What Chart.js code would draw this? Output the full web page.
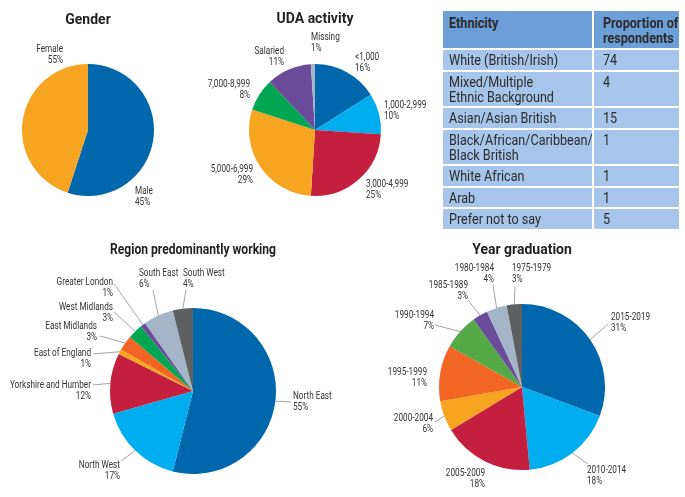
<!DOCTYPE html>
<html>
<head>
<meta charset="utf-8">
<script src="https://cdn.jsdelivr.net/npm/chart.js@4.4.0/dist/chart.umd.min.js"></script>
<style>
  body { margin: 0; background: #fff; }
  #page { position: relative; width: 685px; height: 497px; overflow: hidden; }
  canvas { position: absolute; left: 0; top: 0; }
  table {
    position: absolute; left: 443px; top: 11px; width: 236px;
    border-collapse: collapse; table-layout: fixed;
    font-family: 'Roboto', sans-serif;
    font-size: 14px; line-height: 15px; color: #2b2b2b;
  }
  td, th {
    border: 2px solid #fff; padding: 3px 0 0 6px;
    vertical-align: top; text-align: left; background: #a7c4ea;
    overflow: visible; white-space: nowrap;
  }
  th { background: #6c9fd8; font-weight: bold; padding-top: 5px; }
  tr > :first-child { border-left: none; }
  tr > :last-child { border-right: none; padding-left: 9px; }
  tr:first-child > * { border-top: none; }
  tr:last-child > * { border-bottom: none; }
  .c { display: inline-block; transform: scaleX(0.9); transform-origin: 0 0; }
</style>
</head>
<body>
<div id="page">
  <canvas id="gender" width="685" height="497"></canvas>
  <canvas id="uda" width="685" height="497"></canvas>
  <canvas id="region" width="685" height="497"></canvas>
  <canvas id="year" width="685" height="497"></canvas>
  <table id="eth"><colgroup><col style="width:150px"><col style="width:86px"></colgroup></table>
</div>
<script>
const FONT = "'Roboto', sans-serif";
const TEXT = '#333333';

// Gender (slice sizes as drawn, printed labels as printed)
const genderLabels = ['Male', 'Female'];
const genderValues = [55, 45];
const genderText = ['45%', '55%'];

// UDA activity
const udaLabels = ['<1,000', '1,000-2,999', '3,000-4,999', '5,000-6,999', '7,000-8,999', 'Salaried', 'Missing'];
const udaValues = [16, 10, 25, 29, 8, 11, 1];

// Region predominantly working
const regionLabels = ['North East', 'North West', 'Yorkshire and Humber', 'East of England', 'East Midlands',
  'West Midlands', 'Greater London', 'South East', 'South West'];
const regionValues = [55, 17, 12, 1, 3, 3, 1, 6, 4];

// Year graduation
const yearLabels = ['2015-2019', '2010-2014', '2005-2009', '2000-2004', '1995-1999', '1990-1994',
  '1985-1989', '1980-1984', '1975-1979'];
const yearValues = [31, 18, 18, 6, 11, 7, 3, 4, 3];

// Ethnicity table
const ethnicityHead = ['Ethnicity', 'Proportion of\nrespondents'];
const ethnicityLabels = ['White (British/Irish)', 'Mixed/Multiple\nEthnic Background', 'Asian/Asian British',
  'Black/African/Caribbean/\nBlack British', 'White African', 'Arab', 'Prefer not to say'];
const ethnicityValues = [74, 4, 15, 1, 1, 1, 5];

const C = {
  navy: '#0067ac', sky: '#00aeef', red: '#c41f3e', amber: '#f7a521', orange: '#f26522',
  green: '#00a651', olive: '#55a947', purple: '#6a4c9b', steel: '#a3b5c7', grey: '#5e5f61'
};

// table
const tbl = document.getElementById('eth');
const rowHeights = [38, 22, 36, 22, 36, 22, 21, 21];
const cell = t => '<span class="c">' + String(t).replace('\n', '<br>') + '</span>';
let html = '<tr style="height:' + rowHeights[0] + 'px">' +
  ethnicityHead.map(h => '<th>' + cell(h) + '</th>').join('') + '</tr>';
ethnicityLabels.forEach((l, i) => {
  html += '<tr style="height:' + rowHeights[i + 1] + 'px"><td>' + cell(l) +
    '</td><td>' + cell(ethnicityValues[i]) + '</td></tr>';
});
tbl.insertAdjacentHTML('beforeend', html);

// labels outside the pie, with optional leader lines
const outLabels = {
  id: 'outLabels',
  afterDatasetsDraw(chart, args, opts) {
    const ctx = chart.ctx;
    const meta = chart.getDatasetMeta(0);
    const names = chart.data.labels;
    ctx.save();
    ctx.font = '10px ' + FONT;
    ctx.fillStyle = TEXT;
    ctx.strokeStyle = '#8c8c8c';
    ctx.lineWidth = 0.8;
    ctx.textBaseline = 'middle';
    meta.data.forEach((arc, i) => {
      const p = arc.getProps(['x', 'y', 'startAngle', 'endAngle', 'outerRadius'], true);
      const s = opts.place[i];
      if (s.length > 3) {
        const mid = (p.startAngle + p.endAngle) / 2;
        ctx.beginPath();
        ctx.moveTo(p.x + s[3], p.y + s[4]);
        ctx.lineTo(p.x + Math.cos(mid) * p.outerRadius, p.y + Math.sin(mid) * p.outerRadius);
        ctx.stroke();
      }
      [names[i], opts.text[i]].forEach((t, k) => {
        ctx.save();
        ctx.translate(p.x + s[0], p.y + s[1] + k * 11.5);
        ctx.scale(0.82, 1);
        ctx.textAlign = s[2];
        ctx.fillText(t, 0, 0);
        ctx.restore();
      });
    });
    ctx.restore();
  }
};

function makePie(id, title, labels, values, colors, text, place, cx, cy, r, ty) {
  const W = 685, H = 497, lineH = 14 * 1.2;
  const top = ty - lineH / 2;
  new Chart(document.getElementById(id), {
    type: 'pie',
    data: {
      labels: labels,
      datasets: [{ data: values, backgroundColor: colors, borderWidth: 0, radius: r }]
    },
    options: {
      responsive: false,
      animation: false,
      events: [],
      layout: { padding: { left: cx - r, right: W - cx - r, top: top, bottom: H - cy - r } },
      plugins: {
        legend: { display: false },
        tooltip: { enabled: false },
        title: {
          display: true, text: title, color: '#231f20',
          font: { family: FONT, size: 14, weight: 'bold' },
          padding: { top: 0, bottom: cy - r - top - lineH }
        },
        outLabels: { place: place, text: text }
      }
    },
    plugins: [outLabels]
  });
}

makePie('gender', 'Gender', genderLabels, genderValues, [C.navy, C.amber], genderText,
  [[47, 61, 'left'], [-25, -81, 'right']], 88, 130, 66, 20);

makePie('uda', 'UDA activity', udaLabels, udaValues,
  [C.navy, C.sky, C.red, C.amber, C.green, C.purple, C.steel], udaValues.map(v => v + '%'),
  [[40, -73, 'left'], [69, -25, 'left'], [51, 54, 'left'], [-62, 39, 'right'],
   [-65, -46, 'right'], [-31, -79, 'right'], [-4, -93, 'left']], 315, 130, 66, 19);

makePie('region', 'Region predominantly working', regionLabels, regionValues,
  [C.navy, C.sky, C.red, C.amber, C.orange, C.green, C.purple, C.steel, C.grey],
  regionValues.map(v => v + '%'),
  [[100, 5, 'left', 98, 11], [-73, 74, 'right', -72, 70], [-102, -6, 'right', -100, -6],
   [-102, -38, 'right', -100, -37], [-96, -65, 'right', -93, -55], [-80, -84, 'right', -79, -79],
   [-80, -109, 'right', -79, -107], [-54, -118, 'left', -40, -101], [-10, -118, 'left', -7, -101]],
  193, 391, 83, 250);

makePie('year', 'Year graduation', yearLabels, yearValues,
  [C.navy, C.sky, C.red, C.amber, C.orange, C.olive, C.purple, C.steel, C.grey],
  yearValues.map(v => v + '%'),
  [[89, -70, 'left', 86, -63], [65, 83, 'left', 66, 77], [-37, 86, 'right'], [-89, 31, 'right', -87, 35],
   [-95, -15, 'right'], [-88, -72, 'right', -87, -62], [-54, -102, 'right', -54, -87],
   [-28, -119, 'right', -29, -102], [-10, -119, 'left', -7, -100]],
  522, 387, 83, 250);
</script>
</body>
</html>
